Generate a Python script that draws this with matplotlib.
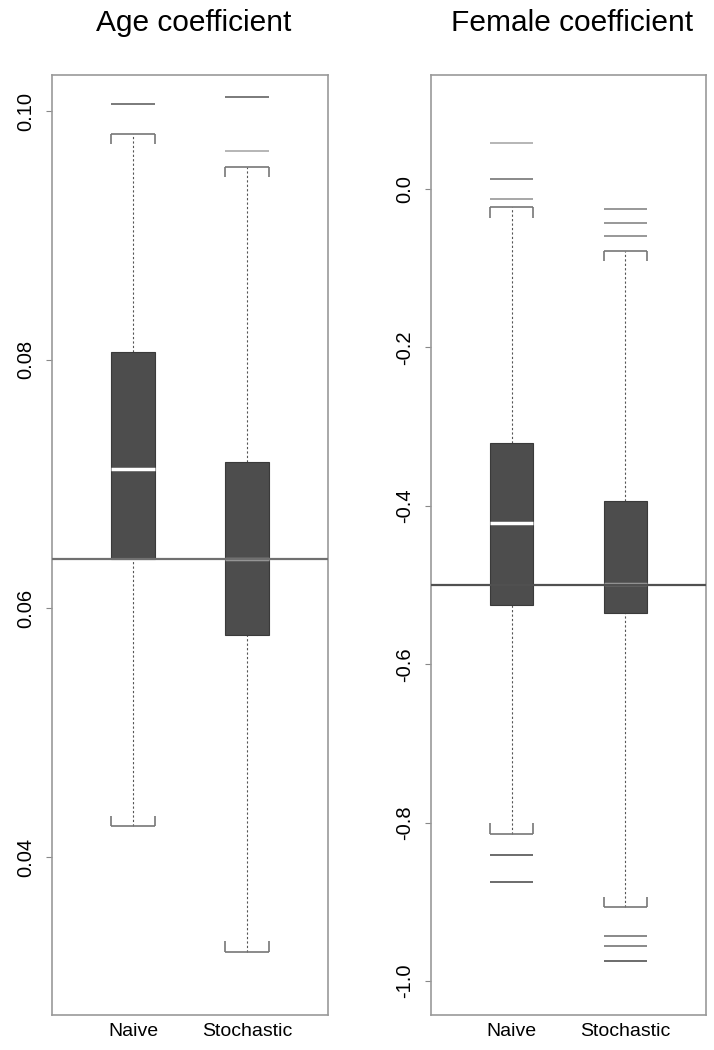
import matplotlib.pyplot as plt
from matplotlib.patches import Rectangle

plt.rcParams['font.family'] = ['Liberation Sans', 'DejaVu Sans']
plt.rcParams['figure.dpi'] = 100

groups = ['Naive', 'Stochastic']

# age coefficient: box stats
age_q1 = [0.0640, 0.0579]
age_med = [0.0712, 0.0640]
age_q3 = [0.0806, 0.0718]
age_lo = [0.0425, 0.0324]
age_hi = [0.0982, 0.0955]
age_out = [[0.1006], [0.1011, 0.0968]]
age_out_col = [['#707070'], ['#707070', '#b0b0b0']]
age_true = 0.064

# female coefficient
fem_q1 = [-0.525, -0.535]
fem_med = [-0.422, -0.499]
fem_q3 = [-0.321, -0.394]
fem_lo = [-0.814, -0.907]
fem_hi = [-0.023, -0.078]
fem_out = [[0.058, 0.0126, -0.0126, -0.841, -0.875],
           [-0.025, -0.043, -0.059, -0.943, -0.956, -0.975]]
fem_out_col = [['#b0b0b0', '#808080', '#a0a0a0', '#606060', '#606060'],
               ['#909090', '#909090', '#909090', '#808080', '#808080', '#606060']]
fem_true = -0.5

pos = [1, 2]
half = 0.19

fig = plt.figure(figsize=(7.14, 10.5))


def panel(rect, title, q1, med, q3, lo, hi, outs, outcols, true, ylim, ticks, fmt, truecol):
    ax = fig.add_axes(rect)
    ax.set_xlim(0.29, 2.71)
    ax.set_ylim(*ylim)
    tick = (ylim[1] - ylim[0]) * 0.011
    for i, p in enumerate(pos):
        # whisker
        ax.vlines(p, lo[i], q1[i], colors='#555555', lw=0.8, linestyles=(0, (2, 2)), zorder=1)
        ax.vlines(p, q3[i], hi[i], colors='#555555', lw=0.8, linestyles=(0, (2, 2)), zorder=1)
        # staples
        ax.hlines([lo[i], hi[i]], p - half, p + half, colors='#777777', lw=1.2, zorder=2)
        ax.vlines([p - half, p + half], lo[i], lo[i] + tick, colors='#777777', lw=1.2, zorder=2)
        ax.vlines([p - half, p + half], hi[i] - tick, hi[i], colors='#777777', lw=1.2, zorder=2)
        # box
        ax.add_patch(Rectangle((p - half, q1[i]), 2 * half, q3[i] - q1[i],
                               facecolor='#4d4d4d', edgecolor='#3a3a3a', lw=0.8, zorder=3))
        # outliers as dashes
        for v, c in zip(outs[i], outcols[i]):
            ax.hlines(v, p - half, p + half, colors=c, lw=1.3, zorder=2)
    ax.hlines(med[0], pos[0] - half, pos[0] + half, colors='white', lw=2.5, zorder=4)
    ax.hlines(med[1], pos[1] - half, pos[1] + half, colors='#9a9a9a', lw=2.5, zorder=4)
    ax.axhline(true, color=truecol, lw=1.6, zorder=5)

    ax.set_xticks(pos)
    ax.set_xticklabels(groups, fontsize=14)
    ax.tick_params(axis='x', length=0, pad=6)
    ax.set_yticks(ticks)
    ax.set_yticklabels([fmt % t for t in ticks], rotation=90, va='center', fontsize=14.5)
    ax.tick_params(axis='y', length=4, color='#888888', pad=8)
    for s in ax.spines.values():
        s.set_color('#999999')
        s.set_linewidth(1.2)
    fig.text(rect[0] + rect[2] / 2 + 0.005, 0.978, title, ha='center', va='center', fontsize=21.5)
    return ax


panel([0.0728, 0.0333, 0.3866, 0.8952], 'Age coefficient',
      age_q1, age_med, age_q3, age_lo, age_hi, age_out, age_out_col, age_true,
      (0.0273, 0.1029), [0.04, 0.06, 0.08, 0.10], '%.2f', '#707070')
panel([0.6036, 0.0333, 0.3852, 0.8952], 'Female coefficient',
      fem_q1, fem_med, fem_q3, fem_lo, fem_hi, fem_out, fem_out_col, fem_true,
      (-1.043, 0.144), [-1.0, -0.8, -0.6, -0.4, -0.2, 0.0], '%.1f', '#505050')

plt.savefig('out.png', dpi=100)
